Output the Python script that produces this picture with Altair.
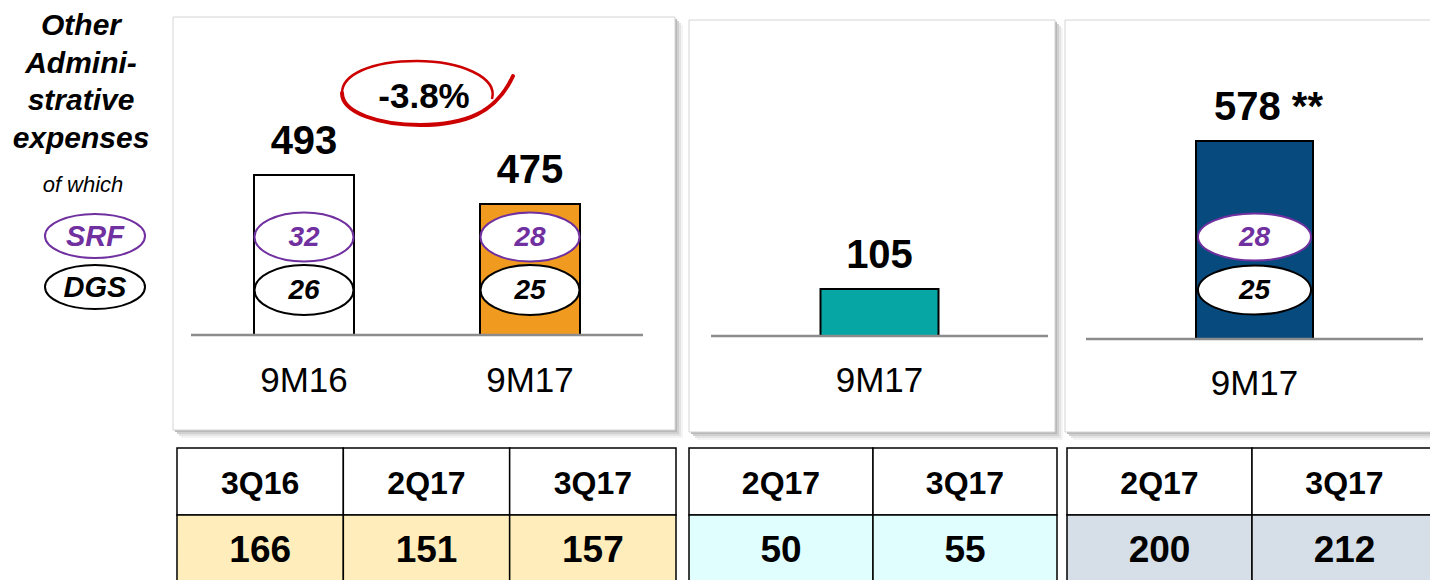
import altair as alt
import pandas as pd

# ---------------- data ----------------
title_lines = ["Other", "Admini-", "strative", "expenses"]
subtitle = "of which"
legend_names = ["SRF", "DGS"]

p1_periods = ["9M16", "9M17"]
p1_totals = [493, 475]
p1_srf = [32, 28]
p1_dgs = [26, 25]
p1_change = "-3.8%"

p2_periods = ["9M17"]
p2_totals = [105]

p3_periods = ["9M17"]
p3_totals = [578]
p3_srf = [28]
p3_dgs = [25]
p3_note = "**"

t1_quarters = ["3Q16", "2Q17", "3Q17"]
t1_values = [166, 151, 157]
t2_quarters = ["2Q17", "3Q17"]
t2_values = [50, 55]
t3_quarters = ["2Q17", "3Q17"]
t3_values = [200, 212]

# ---------------- style / layout ----------------
OFF = 8                      # page margin: layout constants below are page pixels
W, H = 1422, 572
FONT = "Liberation Sans, Arial, Helvetica, sans-serif"
PURPLE = "#7030A0"
RED = "#CC0000"
GREY = "#8c8c8c"
one = pd.DataFrame({"k": [0]})


def P(v):
    return v - OFF


def ellipse_path(rx, ry):
    k = 0.5523
    f = lambda v: f"{v:.2f}"
    return (f"M{f(-rx)},0C{f(-rx)},{f(-k*ry)},{f(-k*rx)},{f(-ry)},0,{f(-ry)}"
            f"C{f(k*rx)},{f(-ry)},{f(rx)},{f(-k*ry)},{f(rx)},0"
            f"C{f(rx)},{f(k*ry)},{f(k*rx)},{f(ry)},0,{f(ry)}"
            f"C{f(-k*rx)},{f(ry)},{f(-rx)},{f(k*ry)},{f(-rx)},0Z")


SWOOSH_TOP = "M72,6C78,-16,40,-32,-3,-32C-50,-32,-78,-18,-78,0"
SWOOSH_BOTTOM = "M-78,0C-78,20,-40,32,0,32C45,32,76,20,93,-17"


def box(x0, y0, x1, y1):
    out = []
    for o, c in [(8, "#f4f4f4"), (6, "#e4e4e4"), (4, "#d0d0d0"), (2, "#b9b9b9")]:
        out.append(alt.Chart(one).mark_rect(fill=c).encode(
            x=alt.value(P(x0 + o)), x2=alt.value(P(x1 + o)),
            y=alt.value(P(y0 + o)), y2=alt.value(P(y1 + o))))
    out.append(alt.Chart(one).mark_rect(fill="white", stroke="#d4d4d4", strokeWidth=1).encode(
        x=alt.value(P(x0)), x2=alt.value(P(x1)), y=alt.value(P(y0)), y2=alt.value(P(y1))))
    return alt.layer(*out)


def bar_panel(periods, totals, fills, x_lo, x_hi, base, top, floor, bar_w, label_y,
              srf=None, dgs=None, ell=None, suffix="", label_dx=0):
    df = pd.DataFrame({"period": periods, "total": totals})
    df["label"] = [(f"{t} {suffix}").strip() for t in totals]
    if srf is not None:
        df["srf"] = [str(v) for v in srf]
        df["dgs"] = [str(v) for v in dgs]
    xs = alt.X("period:N", axis=None,
               scale=alt.Scale(domain=periods, range=[P(x_lo), P(x_hi)],
                               paddingInner=0, paddingOuter=0))
    ys = alt.Y("total:Q", axis=None,
               scale=alt.Scale(domain=[floor, max(totals)], range=[P(base), P(top)],
                               zero=False, nice=False))
    c = alt.Chart(df)
    layers = [
        c.mark_bar(size=bar_w, stroke="black", strokeWidth=2).encode(
            x=xs, y=ys, y2=alt.datum(floor),
            fill=alt.Fill("period:N", scale=alt.Scale(domain=periods, range=fills), legend=None)),
        c.mark_text(font=FONT, fontSize=40, fontWeight="bold", baseline="alphabetic",
                    dy=-21, dx=label_dx, color="black").encode(x=xs, y=ys, text="label:N"),
        c.mark_text(font=FONT, fontSize=35, baseline="alphabetic", color="black").encode(
            x=xs, y=alt.value(P(label_y)), text="period:N"),
    ]
    if srf is not None:
        for key, col, yc, h in [("srf", PURPLE, ell["srf_y"], ell["h1"]),
                                ("dgs", "black", ell["dgs_y"], ell["h2"])]:
            layers.append(c.mark_point(shape=ellipse_path(ell["w"] / 2, h / 2), size=4,
                                       filled=True, fill="white", stroke=col, strokeWidth=2,
                                       opacity=1).encode(x=xs, y=alt.value(P(yc))))
            layers.append(c.mark_text(font=FONT, fontSize=28, fontWeight="bold",
                                      fontStyle="italic", color=col, baseline="middle",
                                      dy=1).encode(x=xs, y=alt.value(P(yc)), text=f"{key}:N"))
    layers.append(alt.Chart(one).mark_rule(color=GREY, strokeWidth=2.5).encode(
        x=alt.value(P(x_lo)), x2=alt.value(P(x_hi)), y=alt.value(P(base))))
    return alt.layer(*layers)


T_TOP, T_BOT = 448, 582


def table(quarters, values, tint, x_lo, x_hi):
    rows = []
    for q, v in zip(quarters, values):
        rows.append({"col": q, "row": "header", "label": q})
        rows.append({"col": q, "row": "value", "label": str(v)})
    df = pd.DataFrame(rows)
    xs = alt.X("col:N", axis=None,
               scale=alt.Scale(domain=quarters, range=[P(x_lo), P(x_hi)],
                               paddingInner=0, paddingOuter=0))
    ys = alt.Y("row:N", axis=None,
               scale=alt.Scale(domain=["header", "value"], range=[P(T_TOP), P(T_BOT)],
                               paddingInner=0, paddingOuter=0))
    c = alt.Chart(df)
    cells = c.mark_rect(stroke="black", strokeWidth=1.5).encode(
        x=xs, y=ys,
        fill=alt.condition(alt.datum.row == "value", alt.value(tint), alt.value("white")))
    head = c.transform_filter(alt.datum.row == "header").mark_text(
        font=FONT, fontSize=32, fontWeight="bold", baseline="middle", dy=2, color="black"
    ).encode(x=xs, y=ys, text="label:N")
    vals = c.transform_filter(alt.datum.row == "value").mark_text(
        font=FONT, fontSize=37, fontWeight="bold", baseline="middle", dy=2, color="black"
    ).encode(x=xs, y=ys, text="label:N")
    return alt.layer(cells, head, vals)


# ---------------- left caption ----------------
title_df = pd.DataFrame({"line": title_lines, "idx": list(range(len(title_lines)))})
title = alt.Chart(title_df).mark_text(
    font=FONT, fontSize=30, fontWeight="bold", fontStyle="italic", baseline="alphabetic",
    color="black").encode(
    x=alt.value(P(81)),
    y=alt.Y("idx:O", axis=None,
            scale=alt.Scale(type="point", domain=list(range(len(title_lines))),
                            range=[P(35), P(148)], padding=0)),
    text="line:N")

sub = alt.Chart(pd.DataFrame({"t": [subtitle]})).mark_text(
    font=FONT, fontSize=22, fontStyle="italic", baseline="alphabetic", color="black").encode(
    x=alt.value(P(83)), y=alt.value(P(192)), text="t:N")

leg_df = pd.DataFrame({"name": legend_names})
leg_y = alt.Y("name:N", axis=None,
              scale=alt.Scale(type="point", domain=legend_names, range=[P(236), P(287)], padding=0))
leg_ell = alt.Chart(leg_df).mark_point(
    shape=ellipse_path(50, 22), size=4, filled=True, fill="white", strokeWidth=2, opacity=1
).encode(x=alt.value(P(95)), y=leg_y,
         stroke=alt.Stroke("name:N", scale=alt.Scale(domain=legend_names, range=[PURPLE, "black"]),
                           legend=None))
leg_txt = alt.Chart(leg_df).mark_text(
    font=FONT, fontSize=29, fontWeight="bold", fontStyle="italic", baseline="middle", dy=1
).encode(x=alt.value(P(95)), y=leg_y, text="name:N",
         color=alt.Color("name:N", scale=alt.Scale(domain=legend_names, range=[PURPLE, "black"]),
                         legend=None))
legend = alt.layer(leg_ell, leg_txt)

# ---------------- change annotation ----------------
chg_df = pd.DataFrame({"t": [p1_change]})
swoosh_top = alt.Chart(chg_df).mark_point(
    shape=SWOOSH_TOP, size=4, filled=False, stroke=RED, color=RED, strokeWidth=2.5, opacity=1
).encode(x=alt.value(P(420)), y=alt.value(P(93)))
swoosh_bottom = alt.Chart(chg_df).mark_point(
    shape=SWOOSH_BOTTOM, size=4, filled=False, stroke=RED, color=RED, strokeWidth=4,
    opacity=1, strokeCap="round"
).encode(x=alt.value(P(420)), y=alt.value(P(93)))
chg_txt = alt.Chart(chg_df).mark_text(
    font=FONT, fontSize=35, fontWeight="bold", baseline="alphabetic", color="black"
).encode(x=alt.value(P(424)), y=alt.value(P(108)), text="t:N")

# ---------------- panels ----------------
ell1 = {"w": 99, "h1": 49, "h2": 50, "srf_y": 237, "dgs_y": 290}
ell3 = {"w": 113, "h1": 47, "h2": 49, "srf_y": 237, "dgs_y": 290}

panel1 = bar_panel(p1_periods, p1_totals, ["white", "#F09B1F"], 191, 643, 335, 175, 394, 100,
                   392, srf=p1_srf, dgs=p1_dgs, ell=ell1)
panel2 = bar_panel(p2_periods, p2_totals, ["#05A6A3"], 711, 1048, 336, 289, 0, 118, 392)
panel3 = bar_panel(p3_periods, p3_totals, ["#064A7E"], 1086, 1423, 339, 141, 0, 117, 395,
                   srf=p3_srf, dgs=p3_dgs, ell=ell3, suffix=p3_note, label_dx=14)

layers = [
    box(173, 17, 675, 430),
    box(689, 20, 1055, 432),
    box(1065, 20, 1460, 432),
    title, sub, legend,
    panel1, panel2, panel3,
    swoosh_top, swoosh_bottom, chg_txt,
    table(t1_quarters, t1_values, "#FFEDBB", 177, 676),
    table(t2_quarters, t2_values, "#E1FEFE", 689, 1057),
    table(t3_quarters, t3_values, "#D6DFE7", 1067, 1437),
]

chart = alt.layer(*layers).resolve_scale(
    x="independent", y="independent", fill="independent", stroke="independent",
    color="independent"
).properties(
    width=W, height=H, padding=0, background="white",
    autosize=alt.AutoSizeParams(type="none"),
).configure_view(stroke=None)

chart.save("out.html", embed_options={"renderer": "svg", "actions": False})
